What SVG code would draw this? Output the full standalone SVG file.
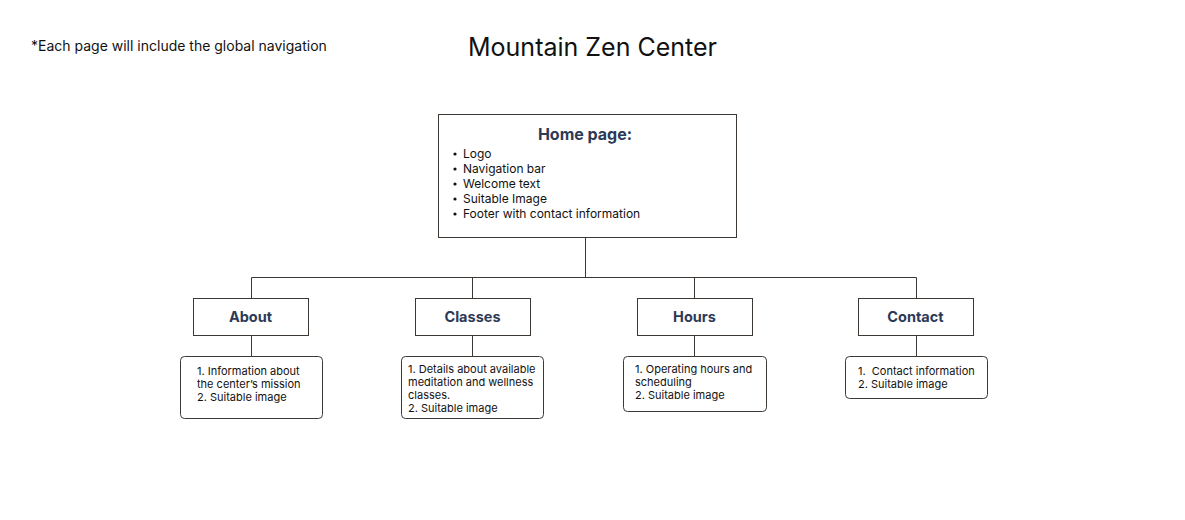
<svg xmlns="http://www.w3.org/2000/svg" width="1185" height="520" viewBox="0 0 1185 520">
  <style>
    text { font-family: Inter, "Liberation Sans", sans-serif; fill: #111111; }
    .box { fill: #ffffff; stroke: #3d3834; stroke-width: 1; }
    .head { font-weight: 700; fill: #2d3a56; text-anchor: middle; }
    .item { font-size: 12px; }
    .small { font-size: 11px; }
    .wire { fill: none; stroke: #3d3834; stroke-width: 1; }
  </style>
  <rect width="1185" height="520" fill="#ffffff"/>

  <text x="31" y="51" font-size="14">*Each page will include the global navigation</text>
  <text x="592.5" y="56" font-size="25" text-anchor="middle">Mountain Zen Center</text>

  <!-- connectors -->
  <g id="connectors">
    <path class="wire" d="M585.5 237 V277.5 M251.5 298 V277.5 H916.5 V298 M472.5 277.5 V298 M694.5 277.5 V298"/>
    <path class="wire" d="M251.5 335 V356 M472.5 335 V356 M694.5 335 V356 M916.5 335 V356"/>
  </g>

  <!-- home page -->
  <g id="home">
    <rect class="box" x="438.5" y="114.5" width="298" height="123"/>
    <text class="head" x="585" y="140" font-size="16">Home page:</text>
    <g class="item">
      <circle cx="455" cy="154" r="1.6" fill="#111"/>
      <circle cx="455" cy="169" r="1.6" fill="#111"/>
      <circle cx="455" cy="184" r="1.6" fill="#111"/>
      <circle cx="455" cy="199" r="1.6" fill="#111"/>
      <circle cx="455" cy="214" r="1.6" fill="#111"/>
      <text class="item" x="463" y="158">Logo</text>
      <text class="item" x="463" y="173">Navigation bar</text>
      <text class="item" x="463" y="188">Welcome text</text>
      <text class="item" x="463" y="203">Suitable Image</text>
      <text class="item" x="463" y="218">Footer with contact information</text>
    </g>
  </g>

  <!-- section pages -->
  <g id="about">
    <rect class="box" x="193.5" y="298.5" width="115" height="37"/>
    <text class="head" x="250.5" y="322" font-size="14.5">About</text>
  </g>
  <g id="classes">
    <rect class="box" x="415.5" y="298.5" width="115" height="37"/>
    <text class="head" x="472.5" y="322" font-size="14.5">Classes</text>
  </g>
  <g id="hours">
    <rect class="box" x="637.5" y="298.5" width="115" height="37"/>
    <text class="head" x="694.5" y="322" font-size="14.5">Hours</text>
  </g>
  <g id="contact">
    <rect class="box" x="858.5" y="298.5" width="115" height="37"/>
    <text class="head" x="915.5" y="322" font-size="14.5">Contact</text>
  </g>

  <!-- page contents -->
  <g id="about-details">
    <rect class="box" x="180.5" y="356.5" width="142" height="62" rx="4"/>
    <text class="small" x="197" y="375">1. Information about</text>
    <text class="small" x="197" y="388">the center’s mission</text>
    <text class="small" x="197" y="401">2. Suitable image</text>
  </g>
  <g id="classes-details">
    <rect class="box" x="401.5" y="356.5" width="142" height="62" rx="4"/>
    <text class="small" x="408" y="373">1. Details about available</text>
    <text class="small" x="408" y="386">meditation and wellness</text>
    <text class="small" x="408" y="399">classes.</text>
    <text class="small" x="408" y="412">2. Suitable image</text>
  </g>
  <g id="hours-details">
    <rect class="box" x="623.5" y="356.5" width="143" height="55" rx="4"/>
    <text class="small" x="635" y="373">1. Operating hours and</text>
    <text class="small" x="635" y="386">scheduling</text>
    <text class="small" x="635" y="399">2. Suitable image</text>
  </g>
  <g id="contact-details">
    <rect class="box" x="845.5" y="356.5" width="142" height="42" rx="4"/>
    <text class="small" x="858" y="375" xml:space="preserve">1.  Contact information</text>
    <text class="small" x="858" y="388">2. Suitable image</text>
  </g>
</svg>
